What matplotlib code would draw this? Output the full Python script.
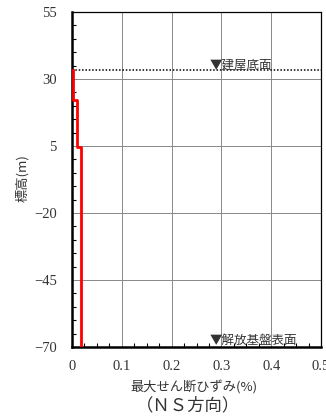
import matplotlib
matplotlib.use("Agg")
import matplotlib.pyplot as plt
from matplotlib.ticker import MultipleLocator

plt.rcParams['font.family'] = ['Liberation Serif', 'Noto Sans CJK JP', 'DejaVu Sans']

# data
elev = [33.5, 22.3, 22.3, 4.5, 4.5, -70.0]
strain = [0.003, 0.003, 0.011, 0.011, 0.018, 0.018]
building_base = 33.5
yticks = [-70, -45, -20, 5, 30, 55]
xticks = [0, 0.1, 0.2, 0.3, 0.4, 0.5]
xtick_labels = ['0', '0.1', '0.2', '0.3', '0.4', '0.5']

CJK = ['Noto Sans CJK JP', 'DejaVu Sans']
TXT = '#333333'

fig = plt.figure(figsize=(3.26, 4.17), dpi=100)
ax = fig.add_axes([72/326, 1-347/417, (321-72)/326, (347-12)/417])

ax.set_xlim(0, 0.5)
ax.set_ylim(-70, 55)
ax.set_xticks(xticks)
ax.set_xticklabels(xtick_labels)
ax.set_yticks(yticks)
ax.xaxis.set_minor_locator(MultipleLocator(0.025))
ax.yaxis.set_minor_locator(MultipleLocator(5))
ax.grid(True, which='major', color='#888888', linewidth=0.7)
ax.tick_params(which='both', direction='in', top=False, right=False, labelsize=10.5, colors=TXT)
ax.tick_params(which='major', length=0)
ax.tick_params(which='minor', length=3, width=0.8, color='black')
ax.tick_params(axis='y', pad=11)
ax.tick_params(axis='x', pad=9)

for s in ['top', 'right']:
    ax.spines[s].set_linewidth(0.9)
for s in ['left', 'bottom']:
    ax.spines[s].set_linewidth(1.8)

ax.axhline(building_base, color='black', linestyle=(0, (1, 1.2)), linewidth=1.1, zorder=3)
ax.plot(strain, elev, color='#ff0000', linewidth=2.0, zorder=4)

ax.text(0.276, building_base - 0.6, '▼建屋底面', fontsize=9, color=TXT,
        family=CJK, ha='left', va='bottom')
ax.text(0.276, -70 + 0.1, '▼解放基盤表面', fontsize=9, color=TXT,
        family=CJK, ha='left', va='bottom')

fig.text(22/326, 1-178/417, '標高(m)', rotation=90, fontsize=9.5, color=TXT,
         family=CJK, ha='center', va='center')
fig.text(194/326, 1-387/417, '最大せん断ひずみ(%)', fontsize=9.5, color=TXT,
         family=CJK, ha='center', va='center')
fig.text(188/326, 1-405/417, '（ＮＳ方向）', fontsize=12.5, color=TXT,
         family=CJK, ha='center', va='center')

fig.savefig('out.png', dpi=100)
